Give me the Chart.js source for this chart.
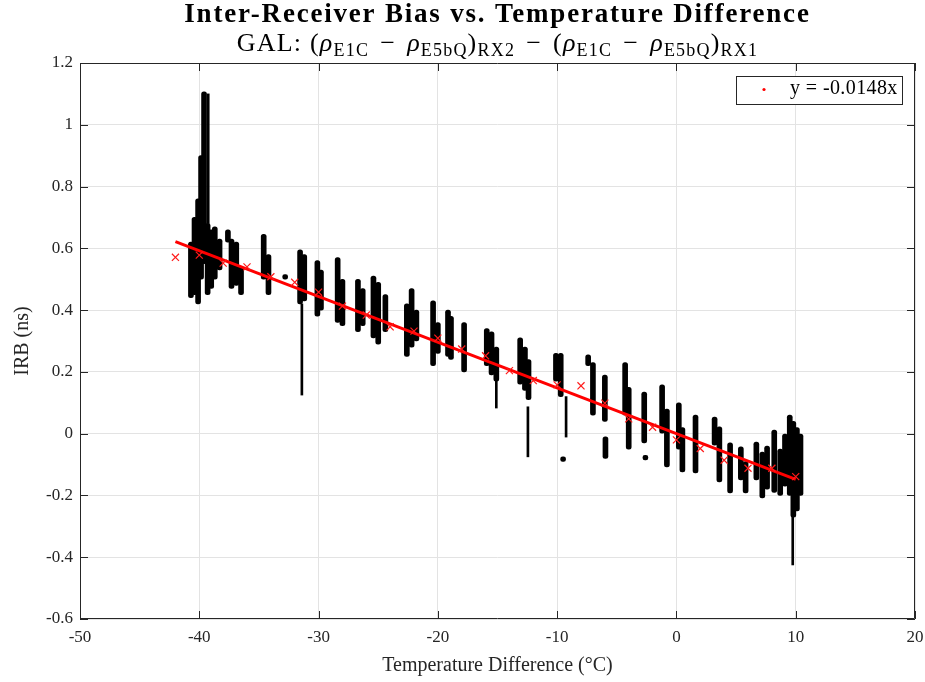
<!DOCTYPE html>
<html>
  <head>
    <meta charset="UTF-8" />
    <title>Inter-Receiver Bias vs. Temperature Difference</title>
    <style>
      html,
      body {
        margin: 0;
        padding: 0;
        width: 100%;
        height: 100%;
        background: #fff;
      }
      #wrap {
        width: 925px;
        height: 682px;
        position: relative;
      }
    </style>
    <script src="https://cdn.jsdelivr.net/npm/chart.js"></script>
  </head>
  <body>
    <div id="wrap"><canvas id="chart"></canvas></div>
    <script>
      // vertical streaks of IRB samples: temperature, lower and upper IRB (ns)
      const streakX = [
        -40.7, -40.4, -40.1, -39.85, -39.6, -39.3, -39.0, -38.7, -38.3, -37.6,
        -37.3, -36.9, -36.5, -34.6, -34.2, -32.8, -31.55, -31.2, -30.1, -29.8,
        -28.4, -28.0, -26.7, -26.3, -25.4, -25.0, -24.4, -22.6, -22.2, -21.8,
        -20.4, -20.0, -19.15, -18.9, -17.8, -15.9, -15.5, -15.1, -13.1, -12.7,
        -12.4, -10.1, -9.7, -9.5, -7.4, -7.0, -6.0, -5.95, -4.3, -4.0,
        -2.7, -2.6, -1.2, -0.8, 0.2, 0.5, 1.6, 3.2, 3.6, 4.5,
        5.4, 5.8, 6.7, 7.2, 7.6, 8.2, 8.7, 9.1, 9.5, 9.8,
        10.1, 10.4
      ];
      const streakLo = [
        0.44, 0.45, 0.42, 0.5, 0.55, 0.45, 0.47, 0.5, 0.53, 0.62,
        0.47, 0.48, 0.45, 0.5, 0.45, 0.5, 0.42, 0.43, 0.38, 0.4,
        0.36, 0.35, 0.33, 0.35, 0.31, 0.29, 0.33, 0.25, 0.28, 0.3,
        0.22, 0.26, 0.25, 0.24, 0.2, 0.22, 0.19, 0.17, 0.16, 0.14,
        0.11, 0.17, 0.12, -0.09, 0.22, 0.06, 0.04, -0.08, 0.06, -0.05,
        -0.03, -0.085, 0.0, -0.108, -0.05, -0.124, -0.127, -0.037, -0.156, -0.192,
        -0.15, -0.192, -0.15, -0.208, -0.18, -0.19, -0.2, -0.17, -0.2, -0.27,
        -0.25, -0.2
      ];
      const streakHi = [
        0.62, 0.7, 0.76, 0.9, 1.107, 0.68, 0.66, 0.67, 0.63, 0.66,
        0.63, 0.62, 0.54, 0.645, 0.58, 0.515, 0.595, 0.58, 0.56, 0.53,
        0.57, 0.5, 0.5, 0.47, 0.51, 0.49, 0.45, 0.42, 0.47, 0.4,
        0.43, 0.36, 0.4, 0.38, 0.36, 0.34, 0.33, 0.28, 0.31, 0.28,
        0.24, 0.26, 0.26, -0.075, 0.255, 0.23, 0.19, -0.01, 0.23, 0.15,
        0.135, -0.07, 0.158, 0.08, 0.1, 0.02, 0.06, 0.054, 0.022, -0.03,
        -0.043, -0.09, -0.027, -0.06, -0.04, 0.012, -0.05, 0.0, 0.06, 0.04,
        0.02, 0.0
      ];

      // sparse tails (thin lines of single samples)
      const tailX = [-39.25, -31.4, -15.1, -12.45, -9.25, 9.75];
      const tailLo = [0.68, 0.125, 0.083, -0.075, -0.011, -0.425];
      const tailHi = [1.1, 0.42, 0.17, 0.087, 0.12, -0.27];

      // binned means (red crosses)
      const binX = [
        -42, -40, -38, -36, -34, -32, -30, -28, -26, -24, -22, -20, -18, -16,
        -14, -12, -10, -8, -6, -4, -2, 0, 2, 4, 6, 8, 10
      ];
      const binY = [
        0.571, 0.578, 0.552, 0.54, 0.508, 0.49, 0.458, 0.413, 0.384, 0.346,
        0.332, 0.309, 0.274, 0.252, 0.204, 0.172, 0.158, 0.155, 0.099, 0.048,
        0.021, -0.02, -0.048, -0.086, -0.112, -0.112, -0.139
      ];

      // linear fit through origin
      const fitSlope = -0.0148;
      const fitX = [-42, 10];

      const xTicks = [-50, -40, -30, -20, -10, 0, 10, 20];
      const yTicks = [-0.6, -0.4, -0.2, 0, 0.2, 0.4, 0.6, 0.8, 1, 1.2];

      const SERIF = "'Liberation Serif', 'DejaVu Serif', serif";
      const AXIS_COLOR = "#262626";

      const streaks = streakX.map((x, i) => ({ x: x, y: [streakLo[i], streakHi[i]] }));
      const tails = tailX.map((x, i) => ({ x: x, y: [tailLo[i], tailHi[i]] }));
      const bins = binX.map((x, i) => ({ x: x, y: binY[i] }));
      const fit = fitX.map((x) => ({ x: x, y: fitSlope * x }));

      // titles, box, inward ticks and legend, MATLAB style
      const decorPlugin = {
        id: "decor",
        afterDraw(chart) {
          const ctx = chart.ctx;
          const a = chart.chartArea;
          const xs = chart.scales.x;
          const ys = chart.scales.y;
          const cx = (a.left + a.right) / 2;
          ctx.save();

          // box
          ctx.strokeStyle = AXIS_COLOR;
          ctx.lineWidth = 1;
          ctx.beginPath();
          ctx.rect(a.left + 0.5, a.top + 0.5, a.right - a.left - 1, a.bottom - a.top - 1);
          ctx.stroke();

          // inward tick marks
          ctx.beginPath();
          xTicks.forEach((t) => {
            const px = Math.round(xs.getPixelForValue(t)) + 0.5;
            ctx.moveTo(px, a.bottom);
            ctx.lineTo(px, a.bottom - 8);
            ctx.moveTo(px, a.top);
            ctx.lineTo(px, a.top + 8);
          });
          yTicks.forEach((t) => {
            const py = Math.round(ys.getPixelForValue(t)) + 0.5;
            ctx.moveTo(a.left, py);
            ctx.lineTo(a.left + 8, py);
            ctx.moveTo(a.right, py);
            ctx.lineTo(a.right - 8, py);
          });
          ctx.stroke();

          // legend
          const lx = 736, ly = 76, lw = 166, lh = 28;
          ctx.fillStyle = "#fff";
          ctx.fillRect(lx, ly, lw, lh);
          ctx.strokeStyle = AXIS_COLOR;
          ctx.strokeRect(lx + 0.5, ly + 0.5, lw, lh);
          ctx.fillStyle = "#ff0000";
          ctx.beginPath();
          ctx.arc(lx + 28, ly + 13.5, 1.6, 0, Math.PI * 2);
          ctx.fill();
          ctx.fillStyle = "#000";
          ctx.font = "20px " + SERIF;
          ctx.letterSpacing = "0.4px";
          ctx.textAlign = "left";
          ctx.textBaseline = "middle";
          ctx.fillText("y = -0.0148x", lx + 54, ly + 13);

          // title
          ctx.fillStyle = "#000";
          ctx.textAlign = "center";
          ctx.textBaseline = "alphabetic";
          ctx.font = "bold 27px " + SERIF;
          ctx.letterSpacing = "1.8px";
          ctx.fillText("Inter-Receiver Bias vs. Temperature Difference", cx, 22);

          // subtitle with subscripts
          ctx.letterSpacing = "1.2px";
          const big = "26px " + SERIF;
          const bigIt = "italic 26px " + SERIF;
          const small = "18px " + SERIF;
          const minus = " \u200a\u2212\u200a ";
          const parts = [
            ["GAL: (", big, 0],
            ["\u03c1", bigIt, 0],
            ["E1C", small, 5],
            [minus, big, 0],
            ["\u03c1", bigIt, 0],
            ["E5bQ", small, 5],
            [")", big, 0],
            ["RX2", small, 5],
            [minus + "(", big, 0],
            ["\u03c1", bigIt, 0],
            ["E1C", small, 5],
            [minus, big, 0],
            ["\u03c1", bigIt, 0],
            ["E5bQ", small, 5],
            [")", big, 0],
            ["RX1", small, 5]
          ];
          let total = 0;
          parts.forEach((p) => {
            ctx.font = p[1];
            total += ctx.measureText(p[0]).width;
          });
          let px = cx - total / 2;
          ctx.textAlign = "left";
          parts.forEach((p) => {
            ctx.font = p[1];
            ctx.fillText(p[0], px, 51 + p[2]);
            px += ctx.measureText(p[0]).width;
          });
          ctx.restore();
        }
      };

      const config = {
        type: "scatter",
        data: {
          datasets: [
            {
              type: "bar",
              data: streaks,
              backgroundColor: "#000",
              barThickness: 5,
              borderRadius: 3,
              borderSkipped: false,
              grouped: false,
              order: 4
            },
            {
              type: "bar",
              data: tails,
              backgroundColor: "#000",
              barThickness: 2,
              borderSkipped: false,
              grouped: false,
              order: 3
            },
            {
              type: "line",
              data: fit,
              borderColor: "#ff0000",
              borderWidth: 3,
              pointRadius: 0,
              order: 2
            },
            {
              type: "scatter",
              data: bins,
              pointStyle: "crossRot",
              pointRadius: 5,
              borderColor: "#ff1a1a",
              borderWidth: 1.2,
              order: 1
            }
          ]
        },
        options: {
          responsive: false,
          animation: false,
          events: [],
          layout: { padding: { top: 63, right: 10, left: 0, bottom: 0 } },
          plugins: {
            legend: { display: false },
            tooltip: { enabled: false }
          },
          scales: {
            x: {
              type: "linear",
              min: -50,
              max: 20,
              offset: false,
              afterFit: (s) => {
                s.height = 63;
                s.paddingLeft = 0;
                s.paddingRight = 0;
              },
              afterBuildTicks: (s) => { s.ticks = xTicks.map((v) => ({ value: v })); },
              grid: { color: "#e3e3e3", drawTicks: false, offset: false },
              border: { display: false },
              ticks: {
                padding: 8,
                color: AXIS_COLOR,
                font: { family: SERIF, size: 17 }
              },
              title: {
                display: true,
                text: "Temperature Difference (\u00b0C)",
                color: AXIS_COLOR,
                font: { family: SERIF, size: 20 },
                padding: { top: 0, bottom: 4 }
              }
            },
            y: {
              type: "linear",
              min: -0.6,
              max: 1.2,
              afterFit: (s) => {
                s.width = 80;
                s.paddingTop = 0;
                s.paddingBottom = 0;
              },
              afterBuildTicks: (s) => { s.ticks = yTicks.map((v) => ({ value: v })); },
              grid: { color: "#e3e3e3", drawTicks: false },
              border: { display: false },
              ticks: {
                padding: 7,
                color: AXIS_COLOR,
                font: { family: SERIF, size: 17 },
                callback: (v) => String(Math.round(v * 10) / 10)
              },
              title: {
                display: true,
                text: "IRB (ns)",
                color: AXIS_COLOR,
                font: { family: SERIF, size: 20 },
                padding: { top: 11, bottom: 0 }
              }
            }
          }
        },
        plugins: [decorPlugin]
      };

      const canvas = document.getElementById("chart");
      canvas.width = 925;
      canvas.height = 682;
      new Chart(canvas.getContext("2d"), config);
    </script>
  </body>
</html>
